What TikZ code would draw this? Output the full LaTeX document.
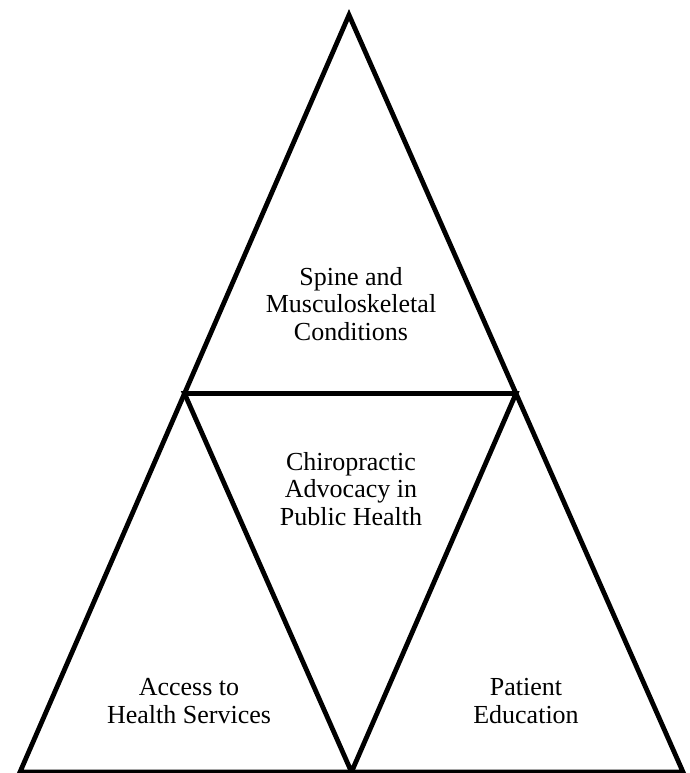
\documentclass[tikz,border=0pt]{standalone}
\usepackage{fontspec}
\setmainfont{Liberation Serif}
\begin{document}
\begin{tikzpicture}[x=1pt,y=-1pt,
  edge/.style={line width=4.8pt,line join=miter,black},
  lbl/.style={align=center,font=\fontsize{26}{27.5}\selectfont,inner sep=0pt,anchor=base}]
\useasboundingbox (0,0) rectangle (690,773);
\coordinate (A) at (349,15);
\coordinate (L) at (20,772);
\coordinate (R) at (683,772);
\coordinate (ML) at (184.5,393.5);
\coordinate (MR) at (516,393.5);
\coordinate (MB) at (351.5,772);
\draw[edge] (A) -- (L) -- (R) -- cycle;
\draw[edge] (ML) -- (MR) -- (MB) -- cycle;
\node[lbl] (top) at (351,340) {Spine and\\Musculoskeletal\\Conditions};
\node[lbl] (mid) at (351,525) {Chiropractic\\Advocacy in\\Public Health};
\node[lbl] (left) at (189,723) {Access to\\Health Services};
\node[lbl] (right) at (526,723) {Patient\\Education};
\end{tikzpicture}
\end{document}
